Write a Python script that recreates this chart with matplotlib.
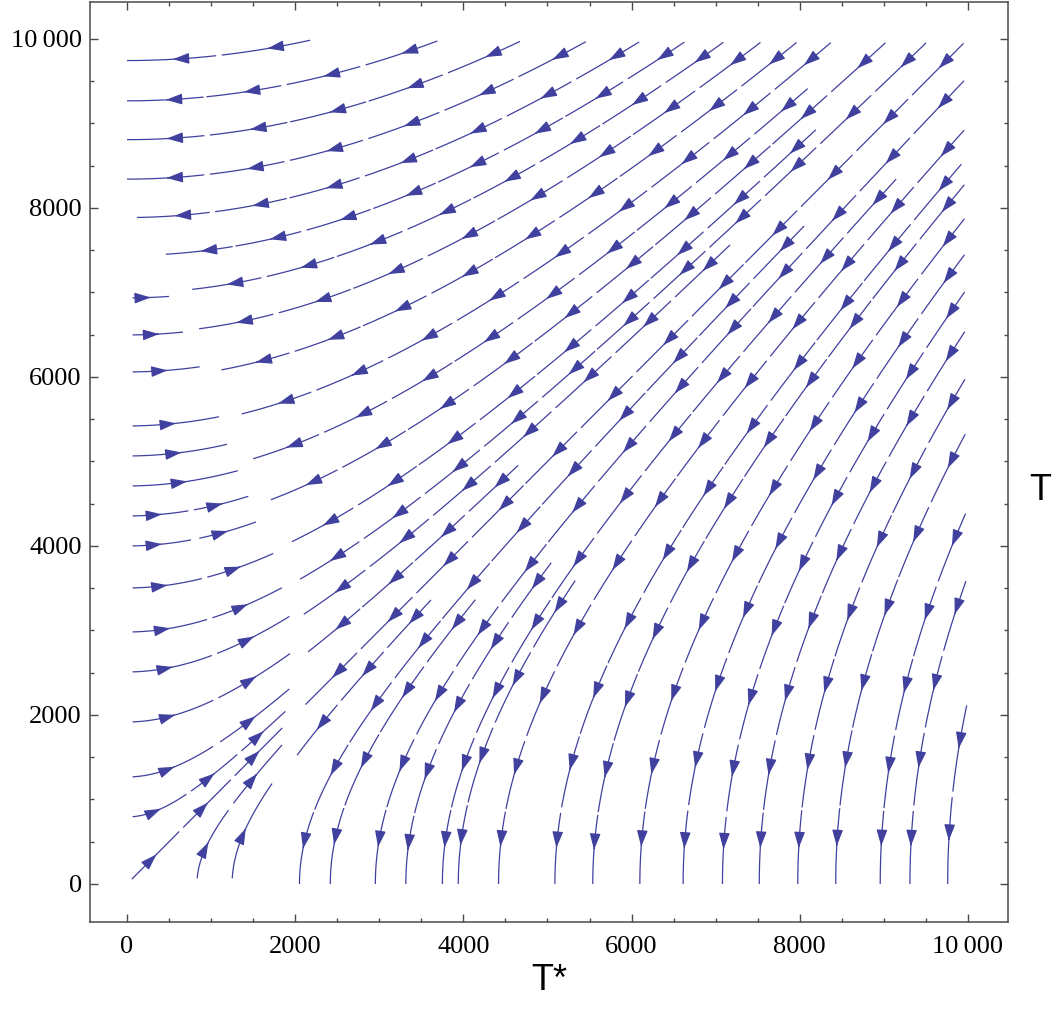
import numpy as np
import matplotlib
matplotlib.use("Agg")
import matplotlib.pyplot as plt
from matplotlib.ticker import MultipleLocator, FuncFormatter

# ---- streamline seeds, in (T*, T) units ---------------------------------
# lines entering from the left edge (T* = 0)
left_seed_T = [793, 1266, 1917, 2509, 2982, 3503, 4000, 4355, 4710, 5065,
               5420, 6059, 6497, 6935]
# lines entering from the bottom edge (T = 0)
bottom_seed_Tstar = [15, 832, 1250]
# lines entering from the top edge (T = 10000)
top_seed_Tstar = [2243, 3754, 4733, 5514, 6147, 6683, 7146, 7586, 8014,
                  8420, 9068, 9550, 9995]
# lines entering from the right edge (T* = 10000)
right_seed_T = [9553, 8970, 8325, 7924, 7500, 7060, 6592, 6030, 5381, 4445,
                3647, 2178]
# lines that begin inside the square
inner_seed_Tstar = [9965, 9191, 8098, 8145, 8240, 7220, 4700, 3660, 4185,
                    5084, 5367]
inner_seed_T = [8568, 8391, 7834, 9456, 8970, 7609, 5000, 3410, 3416,
                3854, 3645]

# curve along which the two flow regimes meet and the flow stalls
stall_Tstar = [1650, 1850, 1980, 2050, 2000, 1850, 1700, 1520, 1350, 1200,
               1000, 760, 680, 330, 0]
stall_T = [0, 1280, 2000, 2720, 3350, 3950, 4280, 4600, 5100, 5600,
           6100, 6580, 7000, 7450, 7850]

LINE = (0.25, 0.25, 0.62)
ARROW = "-|>,head_length=0.6,head_width=0.2"
BAND = 110.0
PIECE = 0.09          # streamline piece length, axes units (one arrow each)

# ---- vector field ---------------------------------------------------------
gx = np.linspace(0, 10000, 201)
gy = np.linspace(0, 10000, 201)
X, Y = np.meshgrid(gx, gy)

th_c = np.arctan2(stall_T, stall_Tstar)
r_c = np.hypot(stall_Tstar, stall_T)
order = np.argsort(th_c)
th_c, r_c = th_c[order], r_c[order]

R = np.hypot(X, Y)
TH = np.arctan2(Y, X)
dist = R - np.interp(TH, th_c, r_c)
sgn = np.where(dist < 0, 1.0, -1.0)
U = np.ma.masked_where(np.abs(dist) < BAND, sgn * Y)
V = np.ma.masked_where(np.abs(dist) < BAND, sgn * X)

seeds = ([(0.0, y) for y in left_seed_T]
         + [(x, x if x < 100 else 0.0) for x in bottom_seed_Tstar]
         + [(x, 9999.0) if x < 9990 else (x, x) for x in top_seed_Tstar]
         + [(9999.0, y) for y in right_seed_T]
         + list(zip(inner_seed_Tstar, inner_seed_T)))

fig = plt.figure(figsize=(10.58, 10.19), dpi=100)
ax = fig.add_axes([90 / 1058, 97 / 1019, 918 / 1058, 920 / 1019])

scratch = plt.figure().add_subplot()

base_kw = dict(density=10, color=LINE, linewidth=0.9, arrowsize=1.65,
               arrowstyle=ARROW, minlength=0.001,
               integration_direction="forward", broken_streamlines=False)

for sx, sy in seeds:
    # trace the whole streamline once to learn its length
    probe = scratch.streamplot(gx, gy, U, V, start_points=[[sx, sy]],
                               maxlength=6.0, **base_kw)
    segs = probe.lines.get_segments()
    if not segs:
        continue
    pts = np.concatenate(segs)
    keep = np.r_[True, np.any(np.diff(pts, axis=0) != 0, axis=1)]
    pts = pts[keep]
    cum = np.r_[0, np.cumsum(np.hypot(*np.diff(pts, axis=0).T))] / 10000.0
    total = cum[-1]
    n = max(1, int(round(total / PIECE)))
    step = total / n
    # draw it as n consecutive pieces, each carrying one arrow
    for i in range(n):
        k = min(np.searchsorted(cum, i * step), len(pts) - 2)
        px, py = pts[k]
        ax.streamplot(gx, gy, U, V, start_points=[[px, py]],
                      maxlength=step, **base_kw)

ax.set_xlim(-440, 10476)
ax.set_ylim(-450, 10437)

fmt = FuncFormatter(lambda v, p: "10\u2009000" if v >= 10000 else f"{int(v)}")
for axis in (ax.xaxis, ax.yaxis):
    axis.set_major_locator(MultipleLocator(2000))
    axis.set_minor_locator(MultipleLocator(500))
    axis.set_major_formatter(fmt)

frame_col = "#4a4a4a"
for sp in ax.spines.values():
    sp.set_color(frame_col)
    sp.set_linewidth(1.1)
ax.tick_params(which="both", direction="in", top=True, right=True,
               color=frame_col, width=1.0)
ax.tick_params(which="major", length=6)
ax.tick_params(which="minor", length=3)
ax.tick_params(axis="x", pad=10)
ax.tick_params(axis="y", pad=6)
for lab in ax.get_xticklabels() + ax.get_yticklabels():
    lab.set_fontfamily("Liberation Serif")
    lab.set_fontsize(19)

ax.set_xlabel("T*", fontfamily="Liberation Sans", fontsize=26, labelpad=4)
fig.text(1040 / 1058, 1 - 490 / 1019, "T", fontfamily="Liberation Sans",
         fontsize=26, ha="center", va="center")

fig.savefig("out.png", dpi=100)
